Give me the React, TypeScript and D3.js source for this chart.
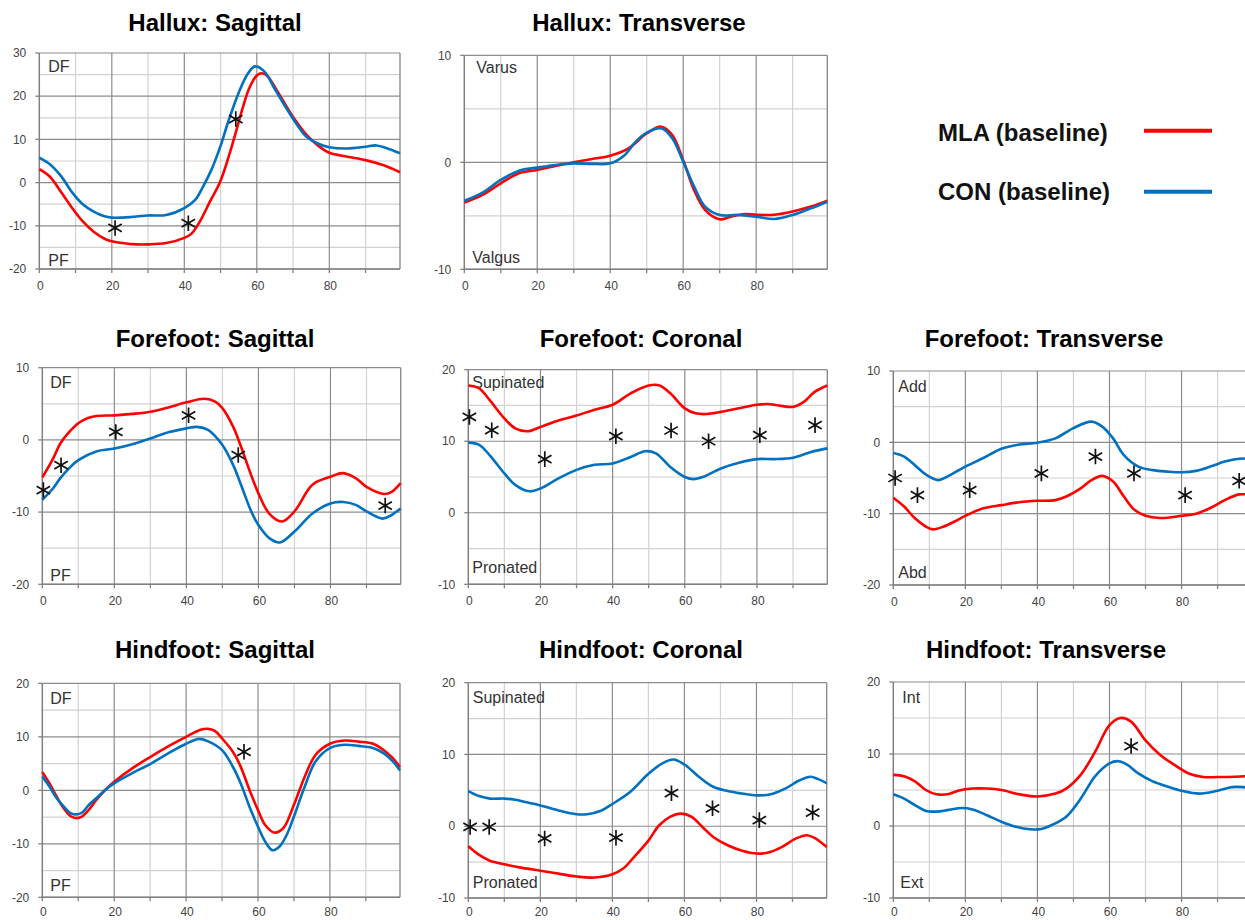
import React from 'react';
import * as d3 from 'd3';

type Pt = [number, number];

// --------------------------------------------------------
// data: x = % of stance, y = angle (deg)
// --------------------------------------------------------
const halluxSagMLA: Pt[] = [[0, 3.1], [3, 1.3], [6, -2.2], [9, -5.8], [12, -9], [15, -11.4], [18, -13], [20, -13.6], [25, -14.2], [30, -14.3], [35, -14], [40, -12.8], [42, -11.8], [44.3, -9], [47, -4.5], [49.8, 0], [52.6, 7], [54.5, 12.5], [56, 17], [58, 22], [60, 24.8], [61.5, 25.3], [63, 24.6], [65.5, 21.4], [70, 15.2], [74, 10.8], [77, 8.5], [80, 6.9], [85, 6], [90, 5.2], [95, 4], [99.5, 2.4]];
const halluxSagCON: Pt[] = [[0, 5.8], [3, 4.2], [6, 1.5], [9, -2.2], [12, -5], [15, -6.7], [18, -7.8], [20, -8.1], [25, -8], [30, -7.6], [35, -7.5], [40, -5.9], [43, -4], [45, -1.2], [47.5, 3], [50, 8.5], [52, 13.8], [55, 20.8], [57.5, 25.2], [59.5, 26.9], [62, 25.8], [65, 21.6], [70, 14.8], [73.5, 10.8], [77, 9], [80, 8.2], [85, 7.9], [90, 8.3], [93, 8.6], [96, 7.9], [99.5, 6.8]];
const halluxSagStars: Pt[] = [[20.9, -10.5], [41.1, -9.4], [54.2, 14.7]];

const halluxTraMLA: Pt[] = [[0, -3.77], [5, -3.05], [10, -1.96], [15, -1.03], [20, -0.72], [25, -0.34], [30, 0], [35, 0.31], [40, 0.62], [45, 1.3], [50, 2.7], [54, 3.33], [57, 2.55], [60, 0.2], [63, -2.6], [66, -4.45], [70, -5.33], [73, -5.08], [77, -4.83], [80, -4.9], [85, -4.9], [90, -4.6], [95, -4.14], [99.5, -3.58]];
const halluxTraCON: Pt[] = [[0, -3.6], [5, -2.83], [10, -1.65], [15, -0.78], [20, -0.5], [25, -0.25], [30, -0.1], [35, -0.15], [40, -0.1], [44, 0.69], [47, 1.93], [50, 2.77], [54, 3.18], [57, 2.24], [60, 0.06], [63, -2.27], [66, -4.14], [70, -4.92], [75, -4.92], [80, -5.08], [85, -5.3], [90, -4.92], [95, -4.3], [99.5, -3.68]];
const halluxTraStars: Pt[] = [];

const foreSagMLA: Pt[] = [[0, -5.2], [3, -2.6], [5, -0.5], [7.5, 1.1], [10, 2.3], [12.5, 3], [15, 3.3], [20, 3.4], [25, 3.6], [30, 3.9], [35, 4.5], [40, 5.2], [45, 5.7], [48, 5.3], [50, 4.4], [53, 1.8], [55, -0.7], [58, -4.9], [60, -7.4], [63, -10.2], [66.5, -11.3], [70, -9.9], [75, -6.2], [80, -5.1], [83.5, -4.6], [87, -5.3], [90, -6.5], [95, -7.5], [97, -7.2], [99.5, -6]];
const foreSagCON: Pt[] = [[0, -8.3], [3, -6.7], [5, -5.3], [7.5, -3.9], [10, -2.8], [15, -1.6], [20, -1.2], [25, -0.6], [30, 0.2], [35, 1.05], [40, 1.6], [43, 1.8], [46, 1.4], [50, -0.7], [53, -3.5], [55, -6], [58, -9.9], [60, -11.8], [63, -13.6], [66, -14.2], [70, -12.7], [75, -10.2], [80, -8.8], [83.5, -8.6], [87, -9], [90, -9.9], [94.5, -10.9], [97, -10.4], [99.5, -9.5]];
const foreSagStars: Pt[] = [[0.3, -6.95], [5.2, -3.5], [20.4, 1.1], [40.6, 3.4], [54.4, -2.1], [95.2, -9.1]];

const foreCorMLA: Pt[] = [[0, 17.8], [3, 17.4], [6, 15.7], [10, 13.2], [13, 11.8], [16.5, 11.4], [20, 12], [25, 12.9], [30, 13.6], [35, 14.4], [40, 15.1], [45, 16.7], [50, 17.8], [53, 17.8], [56, 16.7], [60, 14.6], [63, 13.9], [66, 13.8], [70, 14.1], [75, 14.6], [80, 15.1], [83, 15.2], [86, 15], [90, 14.8], [93, 15.5], [96, 16.9], [99.5, 17.8]];
const foreCorCON: Pt[] = [[0, 9.8], [3, 9.5], [6, 8], [10, 5.5], [13, 3.9], [17, 3], [20, 3.4], [25, 4.8], [30, 6], [35, 6.7], [40, 6.9], [45, 7.8], [49, 8.6], [52, 8.3], [56, 6.4], [60, 5], [62.5, 4.7], [65, 5], [70, 6.2], [75, 7], [80, 7.5], [85, 7.5], [90, 7.7], [95, 8.5], [99.5, 9]];
const foreCorStars: Pt[] = [[0.3, 13.4], [6.5, 11.55], [21.2, 7.5], [40.9, 10.7], [56.2, 11.5], [66.6, 10], [80.8, 10.85], [96.1, 12.25]];

const foreTraMLA: Pt[] = [[0, -7.76], [3, -9], [6, -10.65], [9, -11.8], [11, -12.2], [14, -11.8], [17, -11.1], [20, -10.3], [25, -9.25], [30, -8.8], [35, -8.4], [40, -8.2], [45, -8.1], [48, -7.6], [52, -6.45], [55, -5.3], [58, -4.7], [61, -5.5], [64, -7.6], [67, -9.5], [70, -10.3], [74, -10.6], [80, -10.3], [84, -10], [88, -9.2], [92, -8.1], [96, -7.3], [99.5, -7.4]];
const foreTraCON: Pt[] = [[0, -1.5], [3, -2], [6, -3.2], [9, -4.5], [12.5, -5.3], [15, -4.8], [20, -3.4], [25, -2.2], [30, -0.9], [35, -0.3], [40, -0.05], [45, 0.55], [50, 2], [55, 2.9], [58, 2.2], [61, 0.56], [64, -1.8], [68, -3.4], [72, -3.9], [76, -4.1], [80, -4.2], [84, -4], [88, -3.4], [92, -2.7], [96, -2.3], [99.5, -2.3]];
const foreTraStars: Pt[] = [[0.5, -5], [6.7, -7.4], [21.2, -6.7], [41.1, -4.35], [56.1, -2], [66.8, -4.35], [81, -7.4], [96, -5.4]];

const hindSagMLA: Pt[] = [[0, 3.4], [2, 1.3], [4, -1.2], [6, -3.4], [8, -4.9], [9.5, -5.2], [11, -4.9], [13, -3.6], [15, -1.8], [17.5, 0.06], [20, 1.6], [25, 4.1], [30, 6.2], [35, 8.2], [40, 10], [44, 11.3], [46, 11.5], [48, 11.1], [50, 9.7], [53, 7.2], [55, 4.7], [58, -0.56], [60, -3.7], [62, -6.5], [64.5, -7.9], [67, -7.1], [70, -2.7], [73, 2.55], [76, 6.6], [80, 8.7], [84, 9.3], [88, 9.1], [92, 8.7], [95, 7.5], [97.5, 6], [99.5, 4.3]];
const hindSagCON: Pt[] = [[0, 2.55], [2, 0.7], [4, -1.5], [6, -3.05], [8, -4.3], [9.5, -4.5], [11, -4.2], [13, -2.7], [15, -1.5], [17.5, 0.06], [20, 1.3], [25, 3.2], [30, 4.9], [35, 6.9], [40, 8.7], [43.5, 9.6], [46, 9.2], [50, 7.5], [53, 4.4], [55, 1.6], [58, -3.7], [60, -6.8], [62, -9.6], [64, -11.2], [66, -10.5], [68, -8.3], [70, -4.9], [73, 0.7], [76, 5.4], [80, 7.9], [84, 8.5], [88, 8.3], [92, 7.9], [95, 6.9], [97.5, 5.4], [99.5, 3.7]];
const hindSagStars: Pt[] = [[56.1, 7.2]];

const hindCorMLA: Pt[] = [[0, -2.8], [3, -4], [6, -4.8], [10, -5.3], [15, -5.8], [20, -6.2], [25, -6.6], [30, -7], [35, -7.15], [40, -6.7], [43, -5.9], [46, -4.3], [50, -2], [53, 0.14], [56, 1.3], [59, 1.76], [62, 1.3], [65, -0.1], [68, -1.5], [72, -2.65], [76, -3.4], [80, -3.8], [83, -3.7], [87, -2.9], [91, -1.7], [94, -1.25], [96, -1.6], [99.5, -2.9]];
const hindCorCON: Pt[] = [[0, 4.9], [3, 4.2], [6, 3.85], [10, 3.85], [13, 3.7], [17, 3.25], [20, 2.9], [25, 2.2], [30, 1.67], [33, 1.67], [37, 2.2], [40, 3.1], [45, 4.8], [50, 7.3], [54, 8.8], [57, 9.3], [60, 8.6], [64, 6.9], [68, 5.5], [72, 4.9], [76, 4.55], [80, 4.3], [84, 4.45], [88, 5.25], [92, 6.4], [95, 6.9], [97, 6.6], [99.5, 6]];
const hindCorStars: Pt[] = [[0.5, -0.1], [5.8, -0.1], [21.2, -1.7], [41, -1.6], [56.4, 4.6], [67.8, 2.5], [80.8, 0.85], [95.6, 1.9]];

const hindTraMLA: Pt[] = [[0, 7.1], [3, 6.9], [6, 6.2], [9, 5], [12, 4.4], [15, 4.4], [18, 4.9], [22, 5.2], [26, 5.2], [30, 5], [35, 4.4], [40, 4.1], [45, 4.5], [48, 5.2], [52, 7.1], [56, 10.3], [60, 14], [63, 15], [66, 14.5], [70, 11.9], [74, 9.9], [78, 8.5], [82, 7.3], [86, 6.8], [90, 6.8], [95, 6.85], [99.5, 6.95]];
const hindTraCON: Pt[] = [[0, 4.4], [3, 3.8], [6, 2.9], [9, 2.1], [12, 2], [15, 2.2], [19, 2.5], [22, 2.3], [26, 1.5], [30, 0.6], [34, -0.1], [38, -0.46], [41, -0.42], [44, 0.14], [48, 1.3], [52, 3.8], [56, 6.9], [60, 8.7], [62.5, 9], [65, 8.5], [68, 7.3], [72, 6.2], [76, 5.5], [80, 4.9], [85, 4.5], [90, 4.9], [94, 5.4], [97, 5.4], [99.5, 5.2]];
const hindTraStars: Pt[] = [[66, 11.1]];

const xTicks = [0, 10, 20, 30, 40, 50, 60, 70, 80, 90];
const xLabels = [0, 20, 40, 60, 80];
const legendItems = ['MLA (baseline)', 'CON (baseline)'];

const RED = '#ff0000';
const BLUE = '#0070c0';
const FONT = '"Liberation Sans", Arial, Helvetica, sans-serif';

const panels = [
  { title: 'Hallux: Sagittal', tx: 215, ty: 31, box: [39.3, 400, 53, 269], yd: [-20, 30], mla: halluxSagMLA, con: halluxSagCON, stars: halluxSagStars, up: 'DF', dn: 'PF', upPos: [9, 19], dnPos: [9, -3.5] },
  { title: 'Hallux: Transverse', tx: 639, ty: 31, box: [464.3, 827.3, 55.3, 269.3], yd: [-10, 10], mla: halluxTraMLA, con: halluxTraCON, stars: halluxTraStars, up: 'Varus', dn: 'Valgus', upPos: [12, 17.5], dnPos: [8, -6.5] },
  { title: 'Forefoot: Sagittal', tx: 215, ty: 347, box: [42.3, 400.7, 367.7, 584.3], yd: [-20, 10], mla: foreSagMLA, con: foreSagCON, stars: foreSagStars, up: 'DF', dn: 'PF', upPos: [8, 20], dnPos: [8, -3] },
  { title: 'Forefoot: Coronal', tx: 641, ty: 347, box: [468.3, 827.3, 369.7, 584.3], yd: [-10, 20], mla: foreCorMLA, con: foreCorCON, stars: foreCorStars, up: 'Supinated', dn: 'Pronated', upPos: [4, 18.6], dnPos: [4, -11] },
  { title: 'Forefoot: Transverse', tx: 1044, ty: 347, box: [893.3, 1251.8, 371, 585], yd: [-20, 10], mla: foreTraMLA, con: foreTraCON, stars: foreTraStars, up: 'Add', dn: 'Abd', upPos: [5, 20.7], dnPos: [5, -7] },
  { title: 'Hindfoot: Sagittal', tx: 215, ty: 658, box: [42.3, 400, 683.3, 897.3], yd: [-20, 20], mla: hindSagMLA, con: hindSagCON, stars: hindSagStars, up: 'DF', dn: 'PF', upPos: [8, 21], dnPos: [8, -6.7] },
  { title: 'Hindfoot: Coronal', tx: 641, ty: 658, box: [468.3, 826.7, 682.7, 898], yd: [-10, 20], mla: hindCorMLA, con: hindCorCON, stars: hindCorStars, up: 'Supinated', dn: 'Pronated', upPos: [4.5, 20], dnPos: [4.5, -9.7] },
  { title: 'Hindfoot: Transverse', tx: 1046, ty: 658, box: [893.3, 1251.8, 682, 898], yd: [-10, 20], mla: hindTraMLA, con: hindTraCON, stars: hindTraStars, up: 'Int', dn: 'Ext', upPos: [9, 20.7], dnPos: [7, -9.7] },
];

const starPath = d3.symbol(d3.symbolAsterisk, 170)();

function Panel({ p }: { p: typeof panels[number] }) {
  const [l, r, t, b] = p.box;
  const x = d3.scaleLinear().domain([0, 99.5]).range([l, r]);
  const y = d3.scaleLinear().domain(p.yd).range([b, t]);
  const line = d3.line<Pt>()
    .x(d => x(d[0]))
    .y(d => y(d[1]))
    .curve(d3.curveCatmullRom.alpha(0.5));

  const yGrid = d3.range(p.yd[0], p.yd[1] + 0.1, 5);
  const yLabels = yGrid.filter(v => v % 10 === 0);
  // bottom row labels sit right at the page edge
  const xLabelY = Math.min(b + 21, 916);

  return (
    <g>
      <text x={p.tx} y={p.ty} textAnchor="middle" fontFamily={FONT} fontWeight="bold" fontSize={24} fill="#000">{p.title}</text>
      {/* minor grid */}
      {xTicks.filter(v => v % 20 !== 0).map(v => (
        <line key={'xm' + v} x1={x(v)} x2={x(v)} y1={t} y2={b} stroke="#d2d2d2" strokeWidth={1.2} />
      ))}
      {yGrid.filter(v => v % 10 !== 0).map(v => (
        <line key={'ym' + v} x1={l} x2={r} y1={y(v)} y2={y(v)} stroke="#d2d2d2" strokeWidth={1.2} />
      ))}
      {/* major grid */}
      {xTicks.filter(v => v % 20 === 0 && v > 0).map(v => (
        <line key={'xM' + v} x1={x(v)} x2={x(v)} y1={t} y2={b} stroke="#8c8c8c" strokeWidth={1.2} />
      ))}
      {yLabels.map(v => (
        <line key={'yM' + v} x1={l} x2={r} y1={y(v)} y2={y(v)} stroke="#8c8c8c" strokeWidth={1.2} />
      ))}
      <line x1={r} x2={r} y1={t} y2={b} stroke="#8c8c8c" strokeWidth={1.4} />
      {/* axes */}
      <line x1={l} x2={l} y1={t} y2={b} stroke="#808080" strokeWidth={1.5} />
      <line x1={l} x2={r} y1={b} y2={b} stroke="#808080" strokeWidth={1.5} />
      {yLabels.map(v => (
        <g key={'yt' + v}>
          <line x1={l - 4} x2={l} y1={y(v)} y2={y(v)} stroke="#808080" strokeWidth={1.3} />
          <text x={l - 13} y={y(v)} dy="0.35em" textAnchor="end" fontFamily={FONT} fontSize={12} fill="#444">{v}</text>
        </g>
      ))}
      {xTicks.map(v => (
        <line key={'xt' + v} x1={x(v)} x2={x(v)} y1={b} y2={b + 4} stroke="#808080" strokeWidth={1.3} />
      ))}
      {xLabels.map(v => (
        <text key={'xl' + v} x={x(v) + 1} y={xLabelY} textAnchor="middle" fontFamily={FONT} fontSize={12} fill="#444">{v}</text>
      ))}
      {/* inner direction labels */}
      <text x={l + p.upPos[0]} y={t + p.upPos[1]} fontFamily={FONT} fontSize={16} fill="#333">{p.up}</text>
      <text x={l + p.dnPos[0]} y={b + p.dnPos[1]} fontFamily={FONT} fontSize={16} fill="#333">{p.dn}</text>
      {/* series */}
      <path d={line(p.mla) || ''} fill="none" stroke={RED} strokeWidth={2.6} />
      <path d={line(p.con) || ''} fill="none" stroke={BLUE} strokeWidth={2.6} />
      {p.stars.map((s, i) => (
        <path key={'s' + i} d={starPath || ''} transform={`translate(${x(s[0])},${y(s[1])})`} fill="none" stroke="#111" strokeWidth={1.7} />
      ))}
    </g>
  );
}

export default function App() {
  return (
    <svg width={1245} height={920} style={{ position: 'absolute', left: 0, top: 0, background: '#fff' }}>
      <rect width={1245} height={920} fill="#fff" />
      {panels.map(p => <Panel key={p.title} p={p} />)}
      {/* legend */}
      {legendItems.map((name, i) => (
        <g key={name}>
          <text x={938} y={141 + i * 58.5} fontFamily={FONT} fontWeight="bold" fontSize={24} fill="#111">{name}</text>
          <line x1={1144} x2={1212} y1={130.7 + i * 61} y2={130.7 + i * 61} stroke={i === 0 ? RED : BLUE} strokeWidth={4} />
        </g>
      ))}
    </svg>
  );
}
